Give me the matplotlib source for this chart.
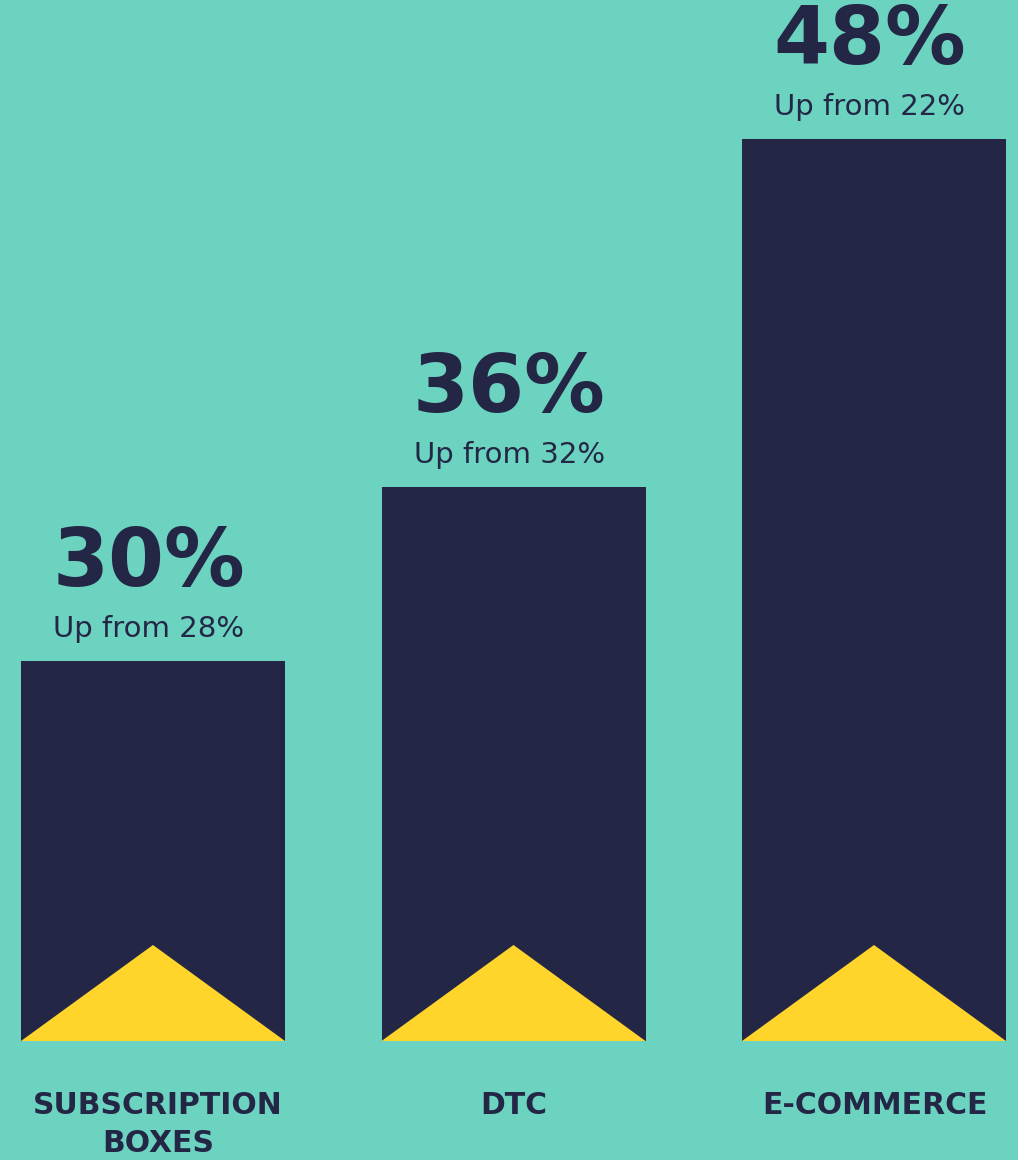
import matplotlib
matplotlib.use("Agg")
import matplotlib.pyplot as plt
from matplotlib.patches import Polygon
from matplotlib.transforms import blended_transform_factory

categories = ["SUBSCRIPTION\nBOXES", "DTC", "E-COMMERCE"]
values = [30, 36, 48]
previous = [28, 32, 22]

BG = "#6dd3c1"
NAVY = "#232745"
YELLOW = "#ffd52b"

fig = plt.figure(figsize=(10.18, 11.6), dpi=100, facecolor=BG)
ax = fig.add_axes([0, 1 - 1041 / 1160, 1, 1041 / 1160])
ax.set_facecolor(BG)

base = 16.9
px_per_unit = 29.0
top = base + 1041 / px_per_unit
ax.set_ylim(base, top)
xl = -153 / 360.5
ax.set_xlim(xl, xl + 1018 / 360.5)

width = 264 / 360.5
x = list(range(len(values)))
ax.bar(x, values, width=width, color=NAVY, bottom=0)

tri_h = 96 / px_per_unit
for xi in x:
    ax.add_patch(Polygon([(xi - width / 2, base), (xi, base + tri_h), (xi + width / 2, base)],
                         closed=True, facecolor=YELLOW, edgecolor="none", zorder=3))

for xi, v, p in zip(x, values, previous):
    ax.annotate(f"{v}%", (xi, v), xytext=(-3, 54), textcoords="offset points",
                ha="center", va="baseline", fontsize=58, fontweight="bold",
                family="DejaVu Sans", color=NAVY)
    ax.annotate(f"Up from {p}%", (xi, v), xytext=(-3, 17.5), textcoords="offset points",
                ha="center", va="baseline", fontsize=21, fontweight="normal",
                family="DejaVu Sans", color=NAVY)

trans = blended_transform_factory(ax.transData, fig.transFigure)
label_dx = [5 / 360.5, 0, 1 / 360.5]
for xi, c, dx in zip(x, categories, label_dx):
    ax.text(xi + dx, 1 - 1091 / 1160, c, transform=trans, ha="center", va="top",
            fontsize=21.5, fontweight="bold", family="DejaVu Sans",
            color=NAVY, linespacing=1.4, clip_on=False)

for s in ax.spines.values():
    s.set_visible(False)
ax.set_xticks([])
ax.set_yticks([])

fig.savefig("out.png", dpi=100, facecolor=BG)
